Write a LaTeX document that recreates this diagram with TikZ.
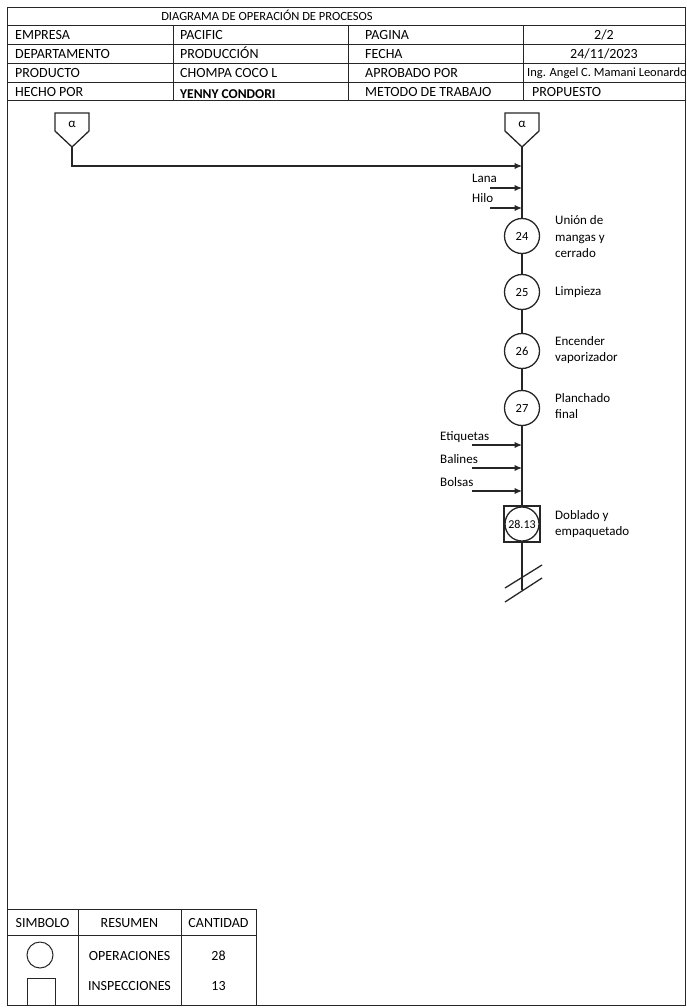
\documentclass[tikz,border=0pt]{standalone}
\usepackage{fontspec}
\setmainfont{Carlito}
\usetikzlibrary{arrows.meta}
\begin{document}
\begin{tikzpicture}[x=1pt,y=-1pt,
  grid/.style={line width=0.9pt, draw=black!85},
  flow/.style={line width=1.3pt, draw=black!85},
  hdr/.style={font=\fontsize{14}{16}\selectfont, inner sep=0pt, anchor=base west},
  hdrc/.style={font=\fontsize{14}{16}\selectfont, inner sep=0pt, anchor=base},
  opcircle/.style={circle, draw=black!85, line width=1.3pt, minimum size=35pt, inner sep=0pt, font=\fontsize{12.5}{14}\selectfont},
  lbl/.style={font=\fontsize{13}{16.5}\selectfont, align=left, anchor=west, inner sep=0pt},
  inlbl/.style={font=\fontsize{13}{15}\selectfont, anchor=base west, inner sep=0pt},
  inarrow/.style={flow, -{Latex[length=7.5pt,width=6.5pt]}},
  sumtxt/.style={font=\fontsize{14}{16}\selectfont, inner sep=0pt, anchor=base},
  alph/.style={inner sep=0pt, font=\fontsize{13}{15}\selectfont}
]
\useasboundingbox (0,0) rectangle (686,1008);
% outer frame
\draw[grid] (7,7) rectangle (685,1005);
% header table
\foreach \yy in {25,44,63,82,100} \draw[grid] (7,\yy) -- (685,\yy);
\foreach \xx in {173,348,523} \draw[grid] (\xx,25) -- (\xx,100);
\node[hdrc, font=\fontsize{12.5}{14}\selectfont] (title) at (267,21) {DIAGRAMA DE OPERACIÓN DE PROCESOS};
\node[hdr] (h11) at (15,39.5) {EMPRESA};
\node[hdr] (h12) at (180,39.5) {PACIFIC};
\node[hdr] (h13) at (365,39.5) {PAGINA};
\node[hdrc] (h14) at (604,39.5) {2/2};
\node[hdr] (h21) at (15,58.5) {DEPARTAMENTO};
\node[hdr] (h22) at (180,58.5) {PRODUCCIÓN};
\node[hdr] (h23) at (365,58.5) {FECHA};
\node[hdrc] (h24) at (604,58.5) {24/11/2023};
\node[hdr] (h31) at (15,77.5) {PRODUCTO};
\node[hdr] (h32) at (180,77.5) {CHOMPA COCO L};
\node[hdr] (h33) at (365,77.5) {APROBADO POR};
\begin{scope}
\clip (523,63) rectangle (685,82);
\node[hdr, font=\fontsize{12.5}{14}\selectfont] (h34) at (527,77) {Ing. Angel C. Mamani Leonardo};
\end{scope}
\node[hdr] (h41) at (15,96.5) {HECHO POR};
\node[hdr, font=\fontsize{13.5}{16}\selectfont\bfseries] (h42) at (180,98.5) {YENNY CONDORI};
\node[hdr] (h43) at (365,96.5) {METODO DE TRABAJO};
\node[hdr] (h44) at (532,96.5) {PROPUESTO};
% alpha connectors
\draw[flow] (55,113) -- (89,113) -- (89,131) -- (72,147) -- (55,131) -- cycle;
\node[alph] (aL) at (72,124) {α};
\coordinate (aLb) at (72,147);
\draw[flow] (505,113) -- (539,113) -- (539,131) -- (522,147) -- (505,131) -- cycle;
\node[alph] (aR) at (522,124) {α};
\coordinate (aRb) at (522,147);
% operations
\node[opcircle] (o24) at (522,236) {24};
\node[opcircle] (o25) at (522,292) {25};
\node[opcircle] (o26) at (522,351) {26};
\node[opcircle] (o27) at (522,408) {27};
\node[draw=black!85, line width=1.3pt, minimum size=36pt, inner sep=0pt] (s28) at (522,524) {};
\node[opcircle, minimum size=34pt, font=\fontsize{12}{14}\selectfont] (o28) at (522,524) {28.13};
\coordinate (endL) at (522,590);
% main line
\draw[flow] (aRb) -- (o24) -- (o25) -- (o26) -- (o27) -- (s28) -- (endL);
% link from left alpha
\coordinate (lk1) at (72,166);
\coordinate (lk2) at (522,166);
\draw[inarrow] (aLb) -- (lk1) -- (lk2);
% inputs
\coordinate (lanaS) at (490,188); \coordinate (lanaE) at (522,188);
\draw[inarrow] (lanaS) -- (lanaE);
\node[inlbl] (lana) at (472,183) {Lana};
\coordinate (hiloS) at (490,208); \coordinate (hiloE) at (522,208);
\draw[inarrow] (hiloS) -- (hiloE);
\node[inlbl] (hilo) at (472,203) {Hilo};
\coordinate (etS) at (472,445); \coordinate (etE) at (522,445);
\draw[inarrow] (etS) -- (etE);
\node[inlbl] (et) at (440,440) {Etiquetas};
\coordinate (baS) at (472,468); \coordinate (baE) at (522,468);
\draw[inarrow] (baS) -- (baE);
\node[inlbl] (ba) at (440,463) {Balines};
\coordinate (boS) at (472,491); \coordinate (boE) at (522,491);
\draw[inarrow] (boS) -- (boE);
\node[inlbl] (bo) at (440,486) {Bolsas};
% labels
\node[lbl] (t24) at (555,237) {Unión de\\mangas y\\cerrado};
\node[lbl] (t25) at (555,292) {Limpieza};
\node[lbl] (t26) at (555,350) {Encender\\vaporizador};
\node[lbl] (t27) at (555,406) {Planchado\\final};
\node[lbl] (t28) at (555,524) {Doblado y\\empaquetado};
% break marks
\coordinate (b1a) at (505,588); \coordinate (b1b) at (542,565);
\coordinate (b2a) at (505,602); \coordinate (b2b) at (542,578);
\draw[flow] (b1a) -- (b1b);
\draw[flow] (b2a) -- (b2b);
% summary table
\draw[grid] (7,909) rectangle (256,1005);
\draw[grid] (7,935) -- (256,935);
\draw[grid] (78,909) -- (78,1005);
\draw[grid] (181,909) -- (181,1005);
\node[sumtxt] (s1) at (42.5,927) {SIMBOLO};
\node[sumtxt] (s2) at (129.5,927) {RESUMEN};
\node[sumtxt] (s3) at (218.5,927) {CANTIDAD};
\node[circle, draw=black!85, line width=1pt, minimum size=26pt, inner sep=0pt] (symc) at (40,955) {};
\draw[line width=1pt, draw=black!85] (27,978) rectangle (55,1005);
\node[sumtxt] (r1) at (129.5,960) {OPERACIONES};
\node[sumtxt] (r2) at (129.5,990) {INSPECCIONES};
\node[sumtxt] (c1) at (218.5,960) {28};
\node[sumtxt] (c2) at (218.5,990) {13};
\end{tikzpicture}
\end{document}
